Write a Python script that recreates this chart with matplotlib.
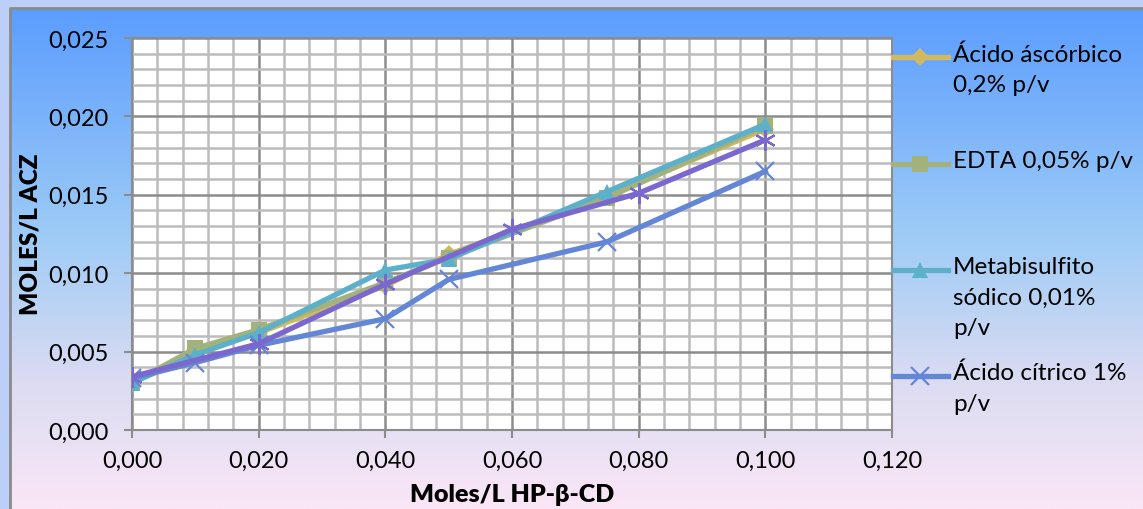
import matplotlib.pyplot as plt
import numpy as np
from matplotlib.colors import LinearSegmentedColormap
from matplotlib.lines import Line2D
from matplotlib.patches import Rectangle
from matplotlib.ticker import FuncFormatter, MultipleLocator

plt.rcParams['font.family'] = ['Lato', 'DejaVu Sans']

# data
x_main = [0.0, 0.01, 0.02, 0.04, 0.05, 0.075, 0.1]
ascorbico = [0.0030, 0.0051, 0.0062, 0.0092, 0.0112, 0.0149, 0.0192]
edta = [0.0030, 0.0052, 0.0064, 0.0094, 0.0110, 0.0148, 0.0194]
metabisulfito = [0.0030, 0.0048, 0.0062, 0.0102, 0.0109, 0.0152, 0.0195]
citrico = [0.0033, 0.0043, 0.0054, 0.0071, 0.0096, 0.0120, 0.0165]
x_extra = [0.0, 0.02, 0.04, 0.06, 0.08, 0.1]
extra = [0.0034, 0.0055, 0.0093, 0.0128, 0.0151, 0.0185]

labels = ['Ácido áscórbico\n0,2% p/v', 'EDTA 0,05% p/v',
          'Metabisulfito\nsódico 0,01%\np/v', 'Ácido cítrico 1%\np/v']

W, H = 1143, 510
fig = plt.figure(figsize=(W / 100, H / 100), dpi=100)

# background gradient
bg = fig.add_axes([0, 0, 1, 1])
bg.set_xlim(0, W)
bg.set_ylim(H, 0)
bg.axis('off')
bg.add_patch(Rectangle((0, 0), W, H, color='#bccff9', zorder=0))
cmap = LinearSegmentedColormap.from_list(
    'bg', [(0, '#5b9dff'), (0.45, '#9dcbf6'), (0.75, '#dcdcf2'), (1, '#fae6f6')])
grad = np.linspace(0, 1, 256).reshape(-1, 1)
bg.imshow(grad, cmap=cmap, aspect='auto', extent=[10, W, H, 9], zorder=1)
bg.plot([9.5, 9.5, W], [H, 8.5, 8.5], color='#8a8a8a', lw=2, zorder=2)

ax = fig.add_axes([132 / W, (H - 431) / H, 760 / W, 392 / H])
ax.set_facecolor('white')

styles = [
    (x_main, ascorbico, '#d2b85e', 'D', 9),
    (x_main, edta, '#a3b27c', 's', 11),
    (x_main, metabisulfito, '#5cb0ca', '^', 11),
    (x_main, citrico, '#6387d6', 'x', 13),
    (x_extra, extra, '#7b68ce', (6, 2, 0), 15),
]
for i, (xs, ys, col, mk, ms) in enumerate(styles):
    ax.plot(xs, ys, color=col, lw=3.8, marker=mk, markersize=ms,
            markeredgewidth=1.6 if mk in ('x',) or isinstance(mk, tuple) else 0,
            markeredgecolor=col, zorder=3 + i)

ax.set_xlim(0, 0.12)
ax.set_ylim(0, 0.025)
ax.xaxis.set_major_locator(MultipleLocator(0.02))
ax.xaxis.set_minor_locator(MultipleLocator(0.004))
ax.yaxis.set_major_locator(MultipleLocator(0.005))
ax.yaxis.set_minor_locator(MultipleLocator(0.001))
fmt = FuncFormatter(lambda v, p: f'{v:.3f}'.replace('.', ','))
ax.xaxis.set_major_formatter(fmt)
ax.yaxis.set_major_formatter(fmt)
ax.grid(which='minor', color='#bcbcbc', lw=1.8)
ax.grid(which='major', color='#8c8c8c', lw=1.8)
ax.set_axisbelow(True)
ax.tick_params(which='major', direction='out', length=6, width=1.5,
               color='#8c8c8c', labelsize=17, pad=8)
ax.tick_params(axis='y', pad=11)
ax.tick_params(which='minor', length=0)
for s in ax.spines.values():
    s.set_color('#8c8c8c')
    s.set_linewidth(1.5)

fig.text(512 / W, 1 - 495 / H, 'Moles/L HP-β-CD', ha='center', va='center',
         fontsize=18, fontweight='heavy')
fig.text(31 / W, 1 - 234 / H, 'MOLES/L ACZ', ha='center', va='center',
         rotation=90, fontsize=17.5, fontweight='heavy')

# legend (first four series), handle aligned with first text line
leg_y = [58, 165, 271, 377]
for (xs, ys, col, mk, ms), lab, yy in zip(styles[:4], labels, leg_y):
    fy = 1 - yy / H
    fig.add_artist(Line2D([893 / W, 948 / W], [fy, fy], color=col, lw=3.8,
                          transform=fig.transFigure))
    fig.add_artist(Line2D([920 / W], [fy], color=col, marker=mk, markersize=ms,
                          markeredgewidth=1.6 if mk == 'x' else 0,
                          markeredgecolor=col, transform=fig.transFigure))
    fig.text(953 / W, fy + 14 / H, lab, ha='left', va='top', fontsize=17.5,
             linespacing=1.55)

fig.savefig('out.png', dpi=100)
